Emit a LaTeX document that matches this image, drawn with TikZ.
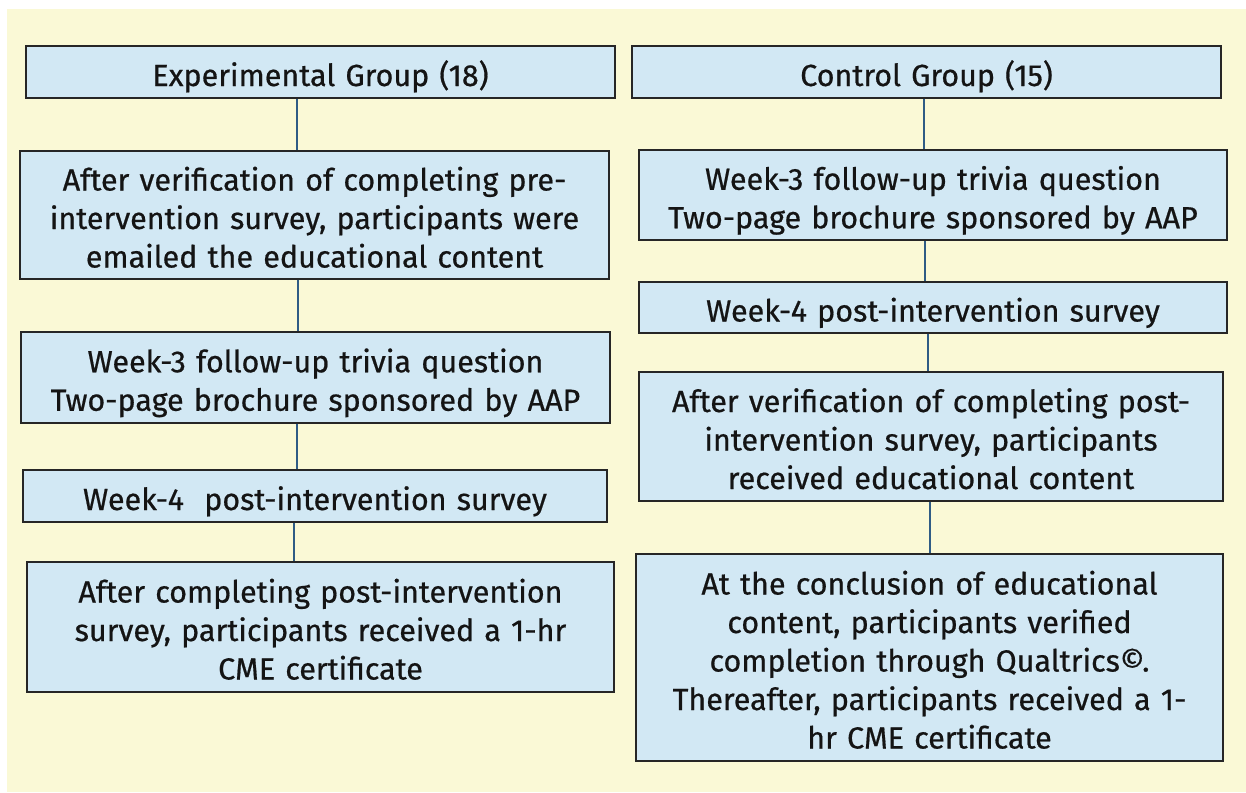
\documentclass[tikz,border=0pt]{standalone}
\usepackage{fontspec}
\setmainfont{Fira Sans}[BoldFont=Fira Sans, BoldFeatures={FakeBold=0.6}]
\usetikzlibrary{shadows}
\definecolor{bgyellow}{RGB}{250,249,214}
\definecolor{boxblue}{RGB}{210,232,244}
\definecolor{connblue}{RGB}{47,92,133}
\definecolor{txt}{RGB}{20,20,20}
\newcommand\firststrut{\rule[-9pt]{0pt}{46pt}}
\newcommand\lnstrut{\rule[-9pt]{0pt}{38.3pt}}
\newcommand\brk{\\\lnstrut}
\tikzset{
  flowbox/.style={draw=black!85, line width=1.4pt, fill=boxblue, inner sep=0pt,
    align=center, text=txt, font=\fontsize{30.5}{38.5}\selectfont\bfseries,
    execute at begin node=\firststrut,
    drop shadow={shadow xshift=1.2pt, shadow yshift=-1.2pt, fill=black, opacity=0.35}},
  conn/.style={draw=connblue, line width=2pt}
}
\begin{document}
\begin{tikzpicture}[x=1pt,y=-1pt]
\useasboundingbox (0,0) rectangle (1246,792);
\fill[white] (0,0) rectangle (1246,792);
\fill[bgyellow] (7,9) rectangle (1246,792);
% left column
\node[flowbox, minimum width=589pt, minimum height=52pt, text width=585pt] (l1) at (320.5,72) {Experimental Group (18)};
\node[flowbox, minimum width=589pt, minimum height=128pt, text width=585pt] (l2) at (314.5,215) {After verification of completing pre-\brk intervention survey, participants were\brk emailed the educational content};
\node[flowbox, minimum width=589pt, minimum height=91pt, text width=585pt] (l3) at (315.5,377.5) {Week-3 follow-up trivia question\brk Two-page brochure sponsored by AAP};
\node[flowbox, minimum width=584pt, minimum height=52pt, text width=580pt] (l4) at (315,496) {Week-4\ \ post-intervention survey};
\node[flowbox, minimum width=587pt, minimum height=130pt, text width=583pt] (l5) at (320.5,627) {After completing post-intervention\brk survey, participants received a 1-hr\brk CME certificate};
% right column
\node[flowbox, minimum width=589pt, minimum height=52pt, text width=585pt] (r1) at (926.5,72) {Control Group (15)};
\node[flowbox, minimum width=588pt, minimum height=90pt, text width=584pt] (r2) at (933,195) {Week-3 follow-up trivia question\brk Two-page brochure sponsored by AAP};
\node[flowbox, minimum width=588pt, minimum height=51pt, text width=584pt] (r3) at (933,307.5) {Week-4 post-intervention survey};
\node[flowbox, minimum width=584pt, minimum height=129pt, text width=580pt] (r4) at (931,436.5) {After verification of completing post-\brk intervention survey, participants\brk received educational content};
\node[flowbox, minimum width=587pt, minimum height=207pt, text width=583pt] (r5) at (929.5,657.5) {At the conclusion of educational\brk content, participants verified\brk completion through Qualtrics©.\brk Thereafter, participants received a 1-\brk hr CME certificate};
% connector x positions
\coordinate (cl1) at (297,0);
\coordinate (cl2) at (298,0);
\coordinate (cl3) at (297,0);
\coordinate (cl4) at (294,0);
\coordinate (cr1) at (924,0);
\coordinate (cr2) at (925,0);
\coordinate (cr3) at (928,0);
\coordinate (cr4) at (930,0);
\draw[conn] (l1.south -| cl1) -- (l2.north -| cl1);
\draw[conn] (l2.south -| cl2) -- (l3.north -| cl2);
\draw[conn] (l3.south -| cl3) -- (l4.north -| cl3);
\draw[conn] (l4.south -| cl4) -- (l5.north -| cl4);
\draw[conn] (r1.south -| cr1) -- (r2.north -| cr1);
\draw[conn] (r2.south -| cr2) -- (r3.north -| cr2);
\draw[conn] (r3.south -| cr3) -- (r4.north -| cr3);
\draw[conn] (r4.south -| cr4) -- (r5.north -| cr4);
\end{tikzpicture}
\end{document}
